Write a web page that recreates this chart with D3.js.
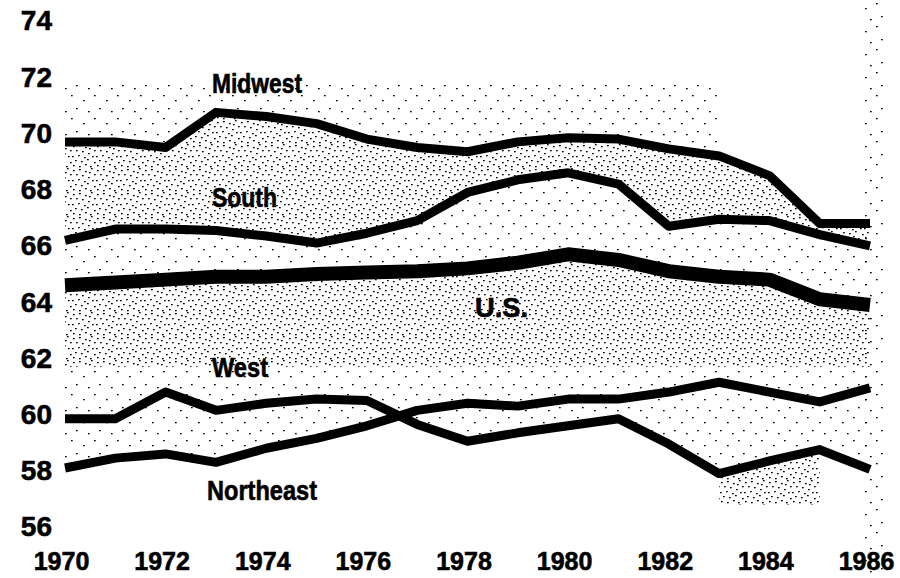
<!DOCTYPE html>
<html>
<head>
<meta charset="utf-8">
<script src="https://cdn.jsdelivr.net/npm/d3@7"></script>
<style>
  body { margin: 0; background: #fff; }
  svg { display: block; font-family: "Liberation Sans", Arial, sans-serif; font-weight: bold; }
</style>
</head>
<body>
<svg id="svg" width="900" height="578"></svg>
<script>
var years = [1970, 1971, 1972, 1973, 1974, 1975, 1976, 1977, 1978, 1979, 1980, 1981, 1982, 1983, 1984, 1985, 1986];
var midwest = [69.7, 69.7, 69.5, 70.75, 70.6, 70.35, 69.8, 69.5, 69.35, 69.7, 69.85, 69.8, 69.45, 69.2, 68.5, 66.8, 66.8];
var south = [66.2, 66.6, 66.6, 66.55, 66.35, 66.1, 66.45, 66.9, 67.9, 68.35, 68.6, 68.2, 66.7, 66.95, 66.9, 66.4, 66.0];
var us = [64.6, 64.7, 64.8, 64.9, 64.9, 65.0, 65.05, 65.1, 65.2, 65.4, 65.7, 65.5, 65.1, 64.9, 64.8, 64.1, 63.9];
var west = [59.85, 59.85, 60.8, 60.15, 60.4, 60.55, 60.5, 59.65, 59.05, 59.35, 59.6, 59.85, 58.95, 57.9, 58.35, 58.75, 58.05];
var northeast = [58.1, 58.45, 58.6, 58.3, 58.8, 59.15, 59.6, 60.15, 60.4, 60.3, 60.55, 60.55, 60.8, 61.15, 60.8, 60.45, 60.95];
var yTicks = [56, 58, 60, 62, 64, 66, 68, 70, 72, 74];
var xTicks = [1970, 1972, 1974, 1976, 1978, 1980, 1982, 1984, 1986];

var svg = d3.select('svg');

var x = d3.scaleLinear()
    .domain([1970, 1986])
    .range([65, 870]);

var y = d3.scaleLinear()
    .domain([56, 74])
    .range([527, 21]);

// halftone shading of the printed chart
var defs = svg.append('defs');

function stipple(id, size, dots) {
    var p = defs.append('pattern')
        .attr('id', id)
        .attr('width', size)
        .attr('height', size)
        .attr('patternUnits', 'userSpaceOnUse');
    dots.forEach(function (d) {
        p.append('rect')
            .attr('x', d[0])
            .attr('y', d[1])
            .attr('width', 1.7)
            .attr('height', 1.3)
            .attr('fill', '#000');
    });
}

stipple('dense', 24, [[1, 2], [7, 1], [13, 3], [19, 0], [22, 6], [4, 6], [10, 7], [16, 9], [0, 12],
    [6, 11], [12, 13], [20, 12], [3, 16], [9, 17], [15, 15], [22, 18], [1, 21], [7, 22], [13, 20],
    [18, 22], [17, 4]]);
stipple('sparse', 23, [[2, 3], [14, 8], [7, 16], [19, 19]]);

function band(top, bottom, idx) {
    return d3.area()
        .x(function (d) { return x(years[d]); })
        .y0(function (d) { return y(bottom(d)); })
        .y1(function (d) { return y(top(d)); })(idx);
}

var all = d3.range(years.length);

svg.append('path')
    .attr('d', band(function () { return 71.8; }, function (i) { return midwest[i]; }, all.slice(0, 14)))
    .attr('fill', 'url(#sparse)');

svg.append('path')
    .attr('d', band(function (i) { return midwest[i]; }, function (i) { return south[i]; }, all))
    .attr('fill', 'url(#dense)');

svg.append('path')
    .attr('d', band(function (i) { return south[i]; }, function (i) { return us[i]; }, all))
    .attr('fill', 'url(#sparse)');

svg.append('path')
    .attr('d', band(function (i) { return us[i]; }, function () { return 61.7; }, all))
    .attr('fill', 'url(#dense)');

svg.append('path')
    .attr('d', band(function () { return 61.7; }, function (i) { return Math.max(west[i], northeast[i]); }, all))
    .attr('fill', 'url(#sparse)');

svg.append('path')
    .attr('d', band(function (i) { return Math.max(west[i], northeast[i]); },
                    function (i) { return Math.min(west[i], northeast[i]); }, all))
    .attr('fill', 'url(#sparse)');

svg.append('path')
    .attr('d', band(function (i) { return west[i]; }, function () { return 56.8; }, [13, 14, 15]))
    .attr('fill', 'url(#dense)');

svg.append('rect')
    .attr('x', 860)
    .attr('y', 0)
    .attr('width', 26)
    .attr('height', 578)
    .attr('fill', 'url(#sparse)');

// series lines
var line = d3.line()
    .x(function (d, i) { return x(years[i]); })
    .y(function (d) { return y(d); });

[midwest, south, west, northeast].forEach(function (s) {
    svg.append('path')
        .attr('d', line(s))
        .attr('fill', 'none')
        .attr('stroke', '#000')
        .attr('stroke-width', 9)
        .attr('stroke-linejoin', 'round');
});

svg.append('path')
    .attr('d', line(us))
    .attr('fill', 'none')
    .attr('stroke', '#000')
    .attr('stroke-width', 14)
    .attr('stroke-linejoin', 'round');

// axes
var yAxis = svg.append('g')
    .attr('transform', 'translate(52,0)')
    .call(d3.axisLeft(y).tickValues(yTicks).tickSize(0).tickPadding(0));
yAxis.select('.domain').remove();
yAxis.selectAll('text')
    .attr('font-family', '"Liberation Sans", Arial, sans-serif')
    .attr('font-weight', 'bold')
    .attr('font-size', 28)
    .attr('fill', '#000')
    .attr('stroke', '#000')
    .attr('stroke-width', 0.6);

var xAxis = svg.append('g')
    .attr('transform', 'translate(-4,561)')
    .call(d3.axisBottom(x).tickValues(xTicks).tickFormat(d3.format('d')).tickSize(0).tickPadding(0));
xAxis.select('.domain').remove();
xAxis.selectAll('text')
    .attr('y', 0)
    .attr('dy', '0.36em')
    .attr('font-family', '"Liberation Sans", Arial, sans-serif')
    .attr('font-weight', 'bold')
    .attr('font-size', 25)
    .attr('fill', '#000')
    .attr('stroke', '#000')
    .attr('stroke-width', 0.6);

// series names
function label(txt, lx, ly, w) {
    svg.append('text')
        .attr('x', lx)
        .attr('y', ly)
        .attr('font-size', 27)
        .attr('textLength', w)
        .attr('lengthAdjust', 'spacingAndGlyphs')
        .attr('fill', '#000')
        .attr('stroke', '#000')
        .attr('stroke-width', 0.6)
        .text(txt);
}

label('Midwest', 212, 93, 90);
label('South', 212, 207, 65);
label('U.S.', 475, 317, 53);
label('West', 212, 377, 56);
label('Northeast', 207, 500, 110);
</script>
</body>
</html>
